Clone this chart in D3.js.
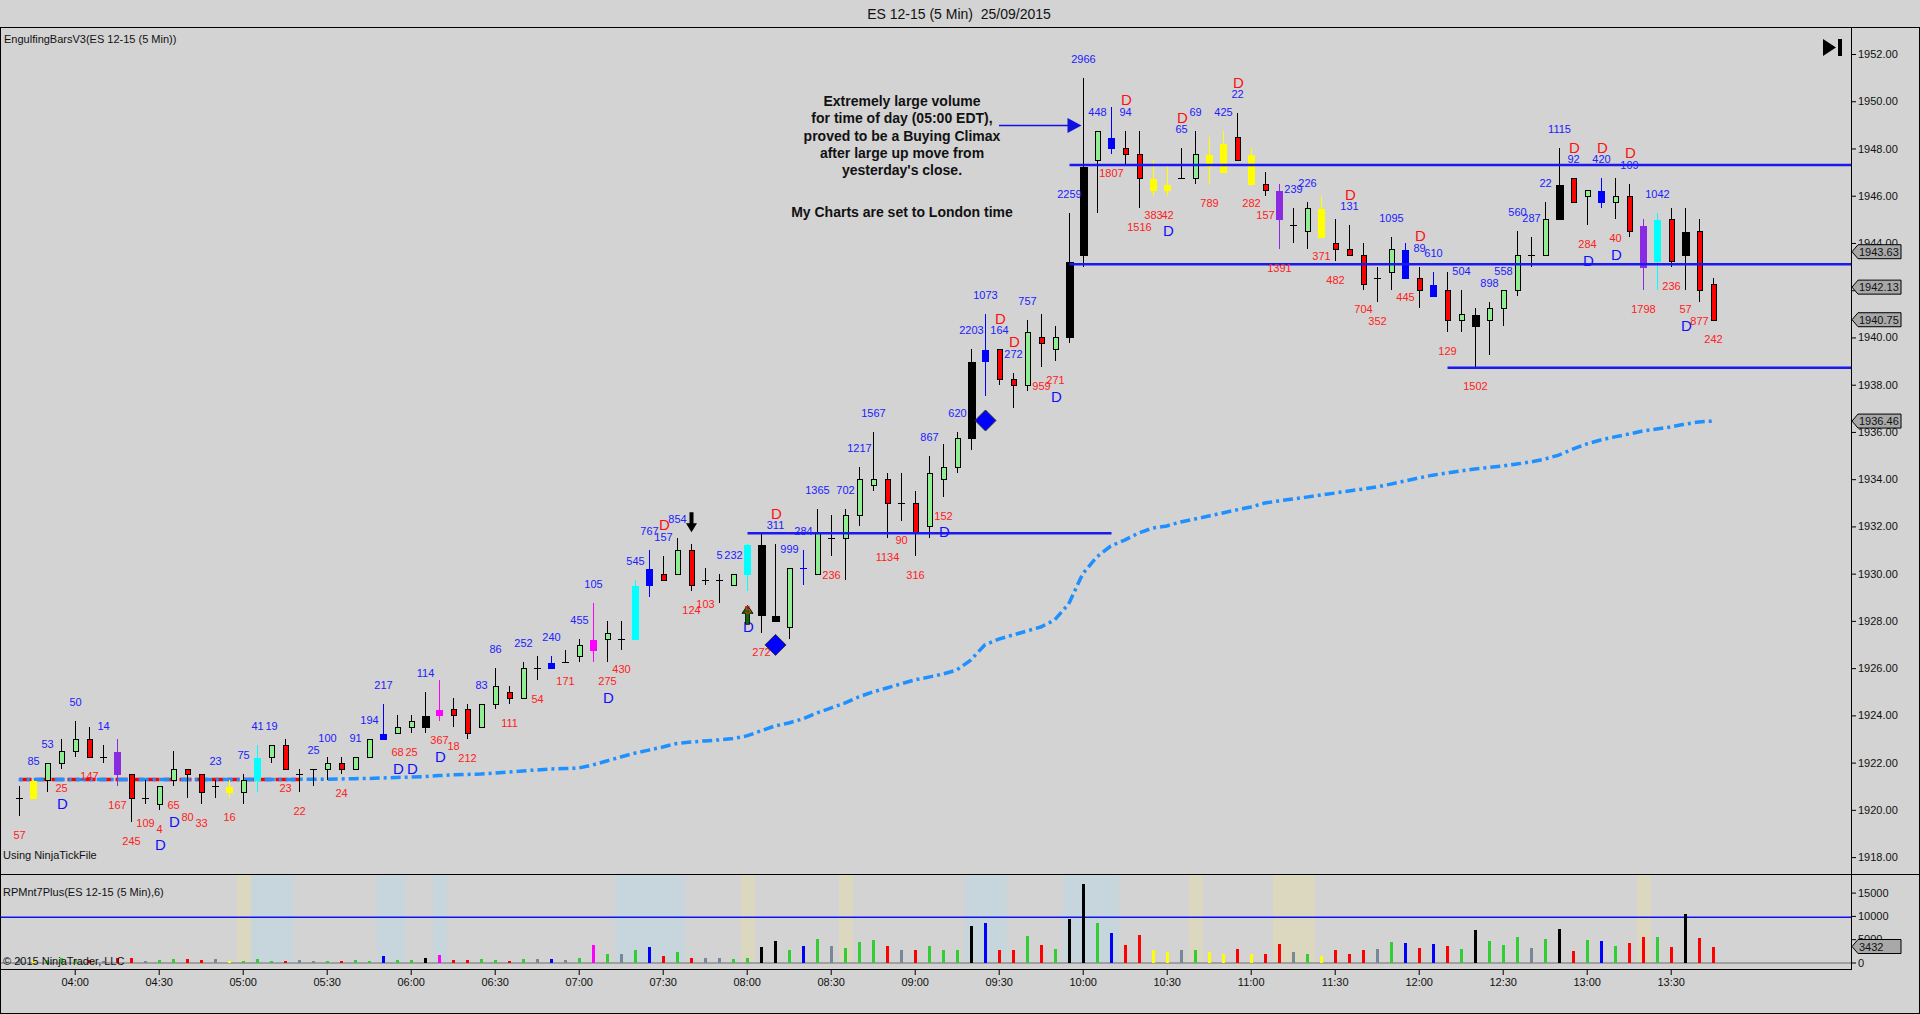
<!DOCTYPE html>
<meta charset="utf-8">
<head>
	<script src="https://d3js.org/d3.v7.min.js"></script>
	<style>
		body { margin: 0; background: #d3d3d3; overflow: hidden; }
		svg text { font-family: "Liberation Sans", Arial, sans-serif; }
		.crisp { shape-rendering: crispEdges; }
	</style>
</head>
<body>
<div id="D3_Chart"></div>
<script>
	'use strict';

	// ---- chart data ----
	var chartTitle = "ES 12-15 (5 Min)\u00a0\u00a025/09/2015";
	var firstBar = Date.UTC(2015, 8, 25, 3, 40); // bars every 5 min, 03:40 .. 13:45 London

	// g=up  r=down  x=doji  k=black  b=blue  bx=blue doji  c=cyan  m=magenta  p=purple  y=yellow
	var barType = ['x','y','g','g','g','r','x','p','r','x',
		'g','g','r','r','x','y','g','c','g','r',
		'x','x','g','r','g','g','b','g','g','k',
		'm','r','r','g','g','r','g','x','b','x',
		'g','m','g','x','c','b','r','g','r','x',
		'x','g','c','k','k','g','bx','g','x','g',
		'g','g','r','x','r','g','g','g','k','b',
		'r','r','g','r','g','k','k','g','b','r',
		'r','y','y','x','g','y','y','r','y','r',
		'p','x','g','y','r','r','r','x','g','b',
		'r','b','r','g','k','g','g','g','x','g',
		'k','r','g','b','g','r','p','c','r','k',
		'r','r'];

	var opens = [1920.5,1920.5,1921.25,1922.0,1922.5,1923.0,1922.25,1922.5,1921.5,1920.5,
		1920.25,1921.25,1921.75,1921.5,1921.0,1921.0,1920.75,1921.25,1922.25,1922.75,
		1921.5,1921.75,1921.75,1922.0,1921.75,1922.25,1923.0,1923.25,1923.5,1923.5,
		1924.0,1924.25,1924.25,1923.5,1924.5,1925.0,1924.75,1926.0,1926.0,1926.25,
		1926.5,1926.75,1927.25,1927.25,1927.25,1929.5,1930.0,1930.0,1931.0,1929.75,
		1929.75,1929.5,1930.0,1931.25,1928.25,1927.75,1930.25,1930.0,1931.5,1931.5,
		1932.5,1933.75,1934.0,1933.0,1933.0,1932.0,1934.0,1934.5,1935.75,1939.0,
		1939.5,1938.25,1938.0,1940.0,1939.5,1940.0,1943.5,1947.5,1948.0,1948.0,
		1947.75,1946.75,1946.5,1946.75,1946.75,1947.25,1947.0,1948.5,1947.75,1946.5,
		1946.25,1944.75,1944.5,1945.5,1944.0,1943.75,1943.5,1942.5,1942.75,1943.75,
		1942.5,1942.25,1942.0,1940.75,1941.0,1940.75,1941.25,1942.0,1943.5,1943.5,
		1945.0,1946.75,1946.0,1945.75,1945.75,1946.0,1944.75,1943.25,1945.0,1944.5,
		1944.5,1942.25];

	var highs = [1921.0,1921.25,1922.0,1923.0,1923.75,1923.5,1922.75,1923.0,1921.5,1921.25,
		1921.0,1922.5,1921.75,1921.5,1921.25,1921.25,1921.5,1922.75,1922.75,1923.0,
		1921.75,1921.75,1922.25,1922.25,1922.25,1923.0,1924.5,1924.0,1924.0,1925.0,
		1925.5,1924.75,1924.5,1924.5,1926.0,1925.25,1926.25,1926.5,1926.5,1926.75,
		1927.25,1928.75,1928.0,1928.0,1929.75,1931.0,1930.75,1931.5,1931.25,1930.25,
		1930.0,1930.0,1931.25,1931.75,1931.25,1930.25,1931.0,1932.75,1932.5,1932.75,
		1934.5,1936.0,1934.25,1934.25,1933.5,1935.0,1935.5,1936.0,1939.5,1941.0,
		1939.5,1938.5,1940.75,1941.0,1940.5,1945.25,1951.0,1948.75,1949.75,1948.75,
		1948.75,1947.5,1947.25,1948.0,1948.75,1948.5,1948.75,1949.5,1948.0,1947.0,
		1946.5,1945.5,1945.75,1946.0,1945.0,1944.75,1944.0,1943.0,1944.25,1944.0,
		1943.0,1942.75,1942.75,1942.0,1941.25,1941.5,1942.0,1944.5,1944.25,1945.75,
		1948.0,1946.75,1946.25,1946.75,1946.75,1946.5,1945.0,1945.25,1945.5,1945.5,
		1945.0,1942.5];

	var lows = [1919.75,1920.5,1920.75,1921.75,1922.25,1922.25,1922.0,1921.0,1919.5,1920.25,
		1920.0,1921.0,1920.5,1920.25,1920.5,1920.5,1920.25,1920.75,1922.0,1921.75,
		1920.75,1921.0,1921.25,1921.5,1921.75,1922.25,1923.0,1923.25,1923.25,1923.25,
		1923.75,1923.5,1923.0,1923.5,1924.25,1924.5,1924.75,1925.5,1926.0,1926.25,
		1926.25,1926.25,1926.25,1926.75,1927.25,1929.0,1929.75,1930.0,1929.25,1929.5,
		1928.75,1929.5,1929.25,1927.5,1928.0,1927.25,1929.5,1930.0,1930.75,1929.75,
		1932.0,1933.5,1931.5,1932.25,1930.75,1931.5,1933.25,1934.25,1935.25,1937.5,
		1938.0,1937.0,1937.75,1938.75,1939.0,1939.75,1943.0,1945.25,1947.75,1947.25,
		1945.5,1946.0,1946.0,1946.75,1946.5,1946.5,1947.0,1947.5,1946.5,1946.0,
		1943.75,1944.0,1943.75,1944.25,1943.25,1943.5,1942.0,1941.5,1942.0,1942.5,
		1941.25,1941.75,1940.25,1940.25,1938.75,1939.25,1940.5,1941.75,1943.0,1943.5,
		1945.0,1945.75,1944.75,1945.5,1945.0,1944.25,1942.0,1942.0,1943.0,1942.0,
		1941.5,1940.75];

	var closes = [1920.5,1921.25,1922.0,1922.5,1923.0,1922.25,1922.25,1921.5,1920.5,1920.5,
		1921.0,1921.75,1921.5,1920.75,1921.0,1920.75,1921.25,1922.25,1922.75,1921.75,
		1921.5,1921.75,1922.0,1921.75,1922.25,1923.0,1923.25,1923.5,1923.75,1924.0,
		1924.25,1924.0,1923.25,1924.5,1925.25,1924.75,1926.0,1926.0,1926.25,1926.25,
		1927.0,1927.25,1927.5,1927.25,1929.5,1930.25,1929.75,1931.0,1929.5,1929.75,
		1929.75,1930.0,1931.25,1928.25,1928.0,1930.25,1930.25,1931.75,1931.5,1932.5,
		1934.0,1934.0,1933.0,1933.0,1931.75,1934.25,1934.5,1935.75,1939.0,1939.5,
		1938.25,1938.0,1940.25,1939.75,1940.0,1943.25,1947.25,1948.75,1948.5,1947.75,
		1946.75,1946.25,1946.25,1946.75,1947.75,1947.75,1948.25,1947.5,1946.5,1946.25,
		1945.0,1944.75,1945.5,1944.25,1943.75,1943.5,1942.25,1942.5,1943.75,1942.5,
		1942.0,1941.75,1940.75,1941.0,1940.5,1941.25,1942.0,1943.5,1943.5,1945.0,
		1946.5,1945.75,1946.25,1946.25,1946.0,1944.5,1943.0,1945.0,1943.25,1943.5,
		1942.0,1940.75];

	// number printed by each bar, and whether it sits above (a) or below (b) the bar
	var barLabel = ["57","85","53","25","50","147","14","167","245","109",
		"4","65","80","33","23","16","75","41","19","23",
		"22","25","100","24","91","194","217","68","25","114",
		"367","18","212","83","86","111","252","54","240","171",
		"455","105","275","430","545","767","157","854","124","103",
		"5","232","5","272","311","999","284","1365","236","702",
		"1217","1567","1134","90","316","867","152","620","2203","1073",
		"164","272","757","959","271","2259","2966","448","1807","94",
		"1516","383","42","65","69","789","425","22","282","157",
		"1391","239","226","371","482","131","704","352","1095","445",
		"89","610","129","504","1502","898","558","560","287","22",
		"1115","92","284","420","40","109","1798","1042","236","57",
		"877","242"];
	var labelSide = ("baabababbb" + "bbbbabaaab" + "baabaaabba" + "bbbaababab" +
		"aabbaaaabb" + "aabbaaaaba" + "aabbbabaaa" + "aaabbaaaba" +
		"bbbaabaabb" + "baabbabbab" + "aababaaaaa" + "aababababb" + "bb").split("");

	var redDBars = [46,54,70,71,79,83,87,95,100,111,113,115];
	var blueDBars = [3,10,11,27,28,30,42,52,66,74,82,112,114,119];
	var diamondBars = [54,69];
	var downArrowBars = [48];
	var upArrowBars = [52];

	var vwap = [1921.29,1921.29,1921.29,1921.29,1921.29,1921.29,1921.29,1921.29,1921.29,1921.29,
		1921.29,1921.29,1921.29,1921.29,1921.29,1921.29,1921.29,1921.29,1921.29,1921.29,
		1921.29,1921.30,1921.30,1921.31,1921.32,1921.33,1921.35,1921.37,1921.39,1921.41,
		1921.45,1921.48,1921.50,1921.52,1921.56,1921.60,1921.65,1921.69,1921.73,1921.75,
		1921.77,1921.90,1922.07,1922.24,1922.40,1922.53,1922.66,1922.81,1922.87,1922.92,
		1922.96,1923.02,1923.13,1923.34,1923.55,1923.68,1923.85,1924.10,1924.31,1924.52,
		1924.78,1924.99,1925.16,1925.33,1925.50,1925.62,1925.75,1925.92,1926.34,1926.98,
		1927.23,1927.40,1927.57,1927.74,1928.04,1928.72,1929.99,1930.71,1931.17,1931.42,
		1931.72,1931.93,1932.02,1932.19,1932.31,1932.44,1932.57,1932.70,1932.82,1932.99,
		1933.08,1933.16,1933.24,1933.33,1933.41,1933.50,1933.58,1933.67,1933.79,1933.92,
		1934.05,1934.17,1934.26,1934.35,1934.43,1934.50,1934.56,1934.64,1934.73,1934.85,
		1935.02,1935.27,1935.49,1935.66,1935.79,1935.91,1936.04,1936.12,1936.21,1936.33,
		1936.42,1936.46];

	var volumes = [800,500,600,860,700,600,400,860,1070,360,
		500,715,715,500,715,290,290,715,290,290,
		500,290,290,290,500,290,1360,500,500,1070,
		1570,500,500,715,500,290,715,715,715,500,
		930,3720,1790,1790,2650,3220,1360,2220,1070,930,
		1070,715,1070,3220,4580,2650,3500,5000,3500,3070,
		4360,4790,3500,2650,2650,3500,2650,2650,7790,8500,
		2650,2650,5650,3720,3000,9440,16800,8500,6290,3720,
		5860,2650,2290,2650,2650,2290,1930,2860,1790,1790,
		3930,2290,1790,1360,2650,1790,2650,2860,4360,4150,
		3070,3930,3500,3000,6940,4580,3720,5430,3070,5000,
		7150,2430,4790,4580,3500,4150,5430,5430,3290,10370,
		5220,3432];
	var volumeAlertLevel = 9700;

	// shaded bar ranges in the volume panel [first bar, last bar]
	var blueBands = [[17,19],[26,27],[30,30],[43,47],[68,70],[75,78]];
	var beigeBands = [[16,16],[52,52],[59,59],[84,84],[90,92],[116,116]];

	// drawn horizontal levels: price, first bar, last bar (null = to the axis)
	var levelPrices = [1947.3, 1943.1, 1938.72, 1931.71];
	var levelFrom = [75, 75, 102, 52];
	var levelTo = [null, null, null, 78];
	var refLinePrice = 1921.29, refLineTo = 20;

	var priceTicks = [1918,1920,1922,1924,1926,1928,1930,1932,1934,1936,1938,1940,1942,1944,1946,1948,1950,1952];
	var priceTags = [1943.63, 1942.13, 1940.75, 1936.46];
	var volumeTicks = [0, 5000, 10000, 15000];
	var volumeTag = 3432;

	var noteLines = ["Extremely large volume", "for time of day (05:00 EDT),", "proved to be a Buying Climax",
		"after large up move from", "yesterday's close."];
	var noteFoot = "My Charts are set to London time";
	var noteBar = 76;

	(function () {
		var width = 1920, height = 1014;
		var axisX = 1851;
		var priceTop = 27, priceBottom = 874, volBottom = 969;

		var svg = d3.select("#D3_Chart").append("svg")
			.attr("width", width).attr("height", height);

		svg.append("rect").attr("width", width).attr("height", height).attr("fill", "#d3d3d3");

		var t0 = new Date(Date.UTC(2015, 8, 25, 4, 0));
		var t1 = new Date(Date.UTC(2015, 8, 25, 13, 30));
		var xscale = d3.scaleUtc().domain([t0, t1]).range([74.7, 1670.7]);
		var yscale = d3.scaleLinear().domain([1918, 1952]).range([857.1, 54.0]);
		var vscale = d3.scaleLinear().domain([0, 15000]).range([962.5, 892.6]);

		var bars = barType.map(function (tp, i) {
			return {
				i: i, t: new Date(firstBar + i * 300000), type: tp,
				o: opens[i], h: highs[i], l: lows[i], c: closes[i],
				lab: barLabel[i], side: labelSide[i], vol: volumes[i], vw: vwap[i]
			};
		});
		function bx(i) { return Math.round(xscale(bars[i].t)) + 0.5; }

		var fillOf = { g: "#90ee90", r: "#ff0000", k: "#000000", b: "#0000ff", bx: "#0000ff",
			c: "#00ffff", m: "#ff00ff", p: "#8a2be2", y: "#ffff00", x: "#000000" };
		var volColor = { g: "#32cd32", c: "#32cd32", r: "#ff0000", p: "#ff0000", x: "#778899",
			k: "#000000", b: "#0000ff", bx: "#0000ff", m: "#ff00ff", y: "#ffff00" };

		// ---- title ----
		svg.append("text").attr("x", 959).attr("y", 13.5).attr("text-anchor", "middle")
			.attr("dominant-baseline", "central").attr("font-size", 14).attr("fill", "#111")
			.text(chartTitle);

		// ---- volume panel shading ----
		var vol = svg.append("g");
		function band(list, color) {
			vol.selectAll(null).data(list).enter().append("rect").attr("class", "crisp")
				.attr("x", function (d) { return bx(d[0]) - 7; })
				.attr("width", function (d) { return bx(d[1]) - bx(d[0]) + 14; })
				.attr("y", priceBottom + 1).attr("height", 962 - priceBottom - 1)
				.attr("fill", color);
		}
		band(blueBands, "#c7d5dd");
		band(beigeBands, "#dcd8c0");

		vol.append("line").attr("class", "crisp").attr("x1", 0).attr("x2", axisX)
			.attr("y1", 962.5).attr("y2", 962.5).attr("stroke", "#a0a0a0").attr("stroke-width", 2);
		vol.append("line").attr("x1", 0).attr("x2", axisX)
			.attr("y1", vscale(volumeAlertLevel)).attr("y2", vscale(volumeAlertLevel))
			.attr("stroke", "#1010f0").attr("stroke-width", 1.5);

		vol.selectAll(".vbar").data(bars).enter().append("rect").attr("class", "vbar crisp")
			.attr("x", function (d) { return bx(d.i) - 1.5; })
			.attr("width", 3)
			.attr("y", function (d) { return vscale(d.vol); })
			.attr("height", function (d) { return vscale(0) - vscale(d.vol); })
			.attr("fill", function (d) { return volColor[d.type]; });

		vol.append("text").attr("x", 3).attr("y", 892).attr("dominant-baseline", "central")
			.attr("font-size", 11).attr("fill", "#111").text("RPMnt7Plus(ES 12-15 (5 Min),6)");
		vol.append("text").attr("x", 3).attr("y", 961).attr("dominant-baseline", "central")
			.attr("font-size", 11).attr("fill", "#111").text("\u00a9 2015 NinjaTrader, LLC");

		// ---- price panel ----
		var main = svg.append("g");
		main.append("text").attr("x", 4).attr("y", 39).attr("dominant-baseline", "central")
			.attr("font-size", 11).attr("fill", "#111").text("EngulfingBarsV3(ES 12-15 (5 Min))");
		main.append("text").attr("x", 3).attr("y", 855).attr("dominant-baseline", "central")
			.attr("font-size", 11).attr("fill", "#111").text("Using NinjaTickFile");

		// reference line and vwap
		main.append("line").attr("x1", bx(0)).attr("x2", bx(refLineTo))
			.attr("y1", yscale(refLinePrice)).attr("y2", yscale(refLinePrice))
			.attr("stroke", "#ff0000").attr("stroke-width", 3.5).attr("stroke-dasharray", "12,4");
		var vwLine = d3.line()
			.x(function (d) { return xscale(d.t); })
			.y(function (d) { return yscale(d.vw); });
		main.append("path").datum(bars).attr("d", vwLine).attr("fill", "none")
			.attr("stroke", "#1e90ff").attr("stroke-width", 3.5)
			.attr("stroke-dasharray", "10,4,3,4").attr("stroke-dashoffset", 6);

		// candles
		var candle = main.selectAll(".candle").data(bars).enter().append("g").attr("class", "candle crisp");
		candle.append("line")
			.attr("x1", function (d) { return bx(d.i); }).attr("x2", function (d) { return bx(d.i); })
			.attr("y1", function (d) { return yscale(d.h); }).attr("y2", function (d) { return yscale(d.l); })
			.attr("stroke", function (d) {
				return (d.type === "g" || d.type === "r" || d.type === "k" || d.type === "x") ? "#000" : fillOf[d.type];
			});
		candle.filter(function (d) { return d.type === "x" || d.type === "bx"; }).append("line")
			.attr("x1", function (d) { return bx(d.i) - 3.5; }).attr("x2", function (d) { return bx(d.i) + 3.5; })
			.attr("y1", function (d) { return Math.round(yscale(d.o)) + 0.5; })
			.attr("y2", function (d) { return Math.round(yscale(d.o)) + 0.5; })
			.attr("stroke", function (d) { return fillOf[d.type]; });
		candle.filter(function (d) { return d.type !== "x" && d.type !== "bx"; }).append("rect")
			.attr("x", function (d) {
				if (d.type === "g" || d.type === "r") return bx(d.i) - 2.5;
				return bx(d.i) - (d.type === "k" ? 4 : 3.5);
			})
			.attr("width", function (d) {
				if (d.type === "g" || d.type === "r") return 5;
				return d.type === "k" ? 8 : 7;
			})
			.attr("y", function (d) { return Math.round(yscale(Math.max(d.o, d.c))) + 0.5; })
			.attr("height", function (d) {
				return Math.max(1, Math.round(yscale(Math.min(d.o, d.c))) - Math.round(yscale(Math.max(d.o, d.c))));
			})
			.attr("fill", function (d) { return fillOf[d.type]; })
			.attr("stroke", function (d) { return (d.type === "g" || d.type === "r") ? "#000" : "none"; });

		// level lines
		levelPrices.forEach(function (p, k) {
			var x1 = bx(levelFrom[k]);
			var x2 = levelTo[k] === null ? axisX : bx(levelTo[k]);
			main.append("line").attr("x1", x1).attr("x2", x2)
				.attr("y1", yscale(p)).attr("y2", yscale(p))
				.attr("stroke", "#1a1af0").attr("stroke-width", 2.5);
		});

		// volume numbers and D markers
		main.selectAll(".num").data(bars).enter().append("text").attr("class", "num")
			.attr("x", function (d) { return bx(d.i); })
			.attr("y", function (d) { return d.side === "a" ? yscale(d.h) - 19 : yscale(d.l) + 19; })
			.attr("text-anchor", "middle").attr("dominant-baseline", "central").attr("font-size", 11)
			.attr("fill", function (d) { return d.side === "a" ? "#2020ff" : "#ff2020"; })
			.text(function (d) { return d.lab; });

		main.selectAll(".dred").data(redDBars).enter().append("text")
			.attr("x", function (i) { return bx(i) + 1; })
			.attr("y", function (i) { return yscale(bars[i].h) - 31; })
			.attr("text-anchor", "middle").attr("dominant-baseline", "central").attr("font-size", 15)
			.attr("fill", "#ff1010").text("D");
		main.selectAll(".dblue").data(blueDBars).enter().append("text")
			.attr("x", function (i) { return bx(i) + 1; })
			.attr("y", function (i) { return yscale(bars[i].l) + 35; })
			.attr("text-anchor", "middle").attr("dominant-baseline", "central").attr("font-size", 15)
			.attr("fill", "#1010ff").text("D");

		// diamonds and arrows
		main.selectAll(".diamond").data(diamondBars).enter().append("path")
			.attr("d", function (i) {
				var cx = bx(i), cy = yscale(bars[i].l) + 24, r = 10.5;
				return "M" + cx + "," + (cy - r) + "L" + (cx + r) + "," + cy + "L" + cx + "," + (cy + r) + "L" + (cx - r) + "," + cy + "Z";
			})
			.attr("fill", "#0000ff").attr("stroke", "#333").attr("stroke-width", 1);
		main.selectAll(".darrow").data(downArrowBars).enter().append("path")
			.attr("d", function (i) {
				var cx = bx(i), tip = yscale(bars[i].h) - 12;
				return "M" + (cx - 2) + "," + (tip - 20) + "H" + (cx + 2) + "V" + (tip - 9) + "H" + (cx + 5.5) +
					"L" + cx + "," + tip + "L" + (cx - 5.5) + "," + (tip - 9) + "H" + (cx - 2) + "Z";
			})
			.attr("fill", "#000");
		main.selectAll(".uarrow").data(upArrowBars).enter().append("path")
			.attr("d", function (i) {
				var cx = bx(i), tip = yscale(bars[i].l) + 14;
				return "M" + (cx - 2) + "," + (tip + 19) + "H" + (cx + 2) + "V" + (tip + 8) + "H" + (cx + 5.5) +
					"L" + cx + "," + tip + "L" + (cx - 5.5) + "," + (tip + 8) + "H" + (cx - 2) + "Z";
			})
			.attr("fill", "#0a6a0a").attr("stroke", "#000").attr("stroke-width", 0.8);
		// redraw the red number over the arrow
		main.selectAll(".num2").data(upArrowBars).enter().append("text")
			.attr("x", function (i) { return bx(i); }).attr("y", function (i) { return yscale(bars[i].l) + 19; })
			.attr("text-anchor", "middle").attr("dominant-baseline", "central").attr("font-size", 11)
			.attr("fill", "#ff2020").text(function (i) { return bars[i].lab; });

		// annotation
		var note = main.append("g").attr("font-size", 14).attr("font-weight", "bold").attr("fill", "#111")
			.attr("text-anchor", "middle");
		noteLines.forEach(function (s, k) {
			note.append("text").attr("x", 902).attr("y", 100.7 + k * 17.4)
				.attr("dominant-baseline", "central").text(s);
		});
		note.append("text").attr("x", 902).attr("y", 211.7).attr("dominant-baseline", "central").text(noteFoot);
		var ay = 125.5, ax = bx(noteBar) - 2;
		main.append("line").attr("x1", 999).attr("x2", ax - 12).attr("y1", ay).attr("y2", ay)
			.attr("stroke", "#1010e0").attr("stroke-width", 1.5);
		main.append("path")
			.attr("d", "M" + (ax - 14) + "," + (ay - 7.5) + "L" + ax + "," + ay + "L" + (ax - 14) + "," + (ay + 7.5) + "Z")
			.attr("fill", "#1010e0");

		// go-to-end icon
		main.append("path").attr("d", "M1823,39L1836,47.5L1823,56Z").attr("fill", "#000");
		main.append("rect").attr("x", 1838).attr("y", 39).attr("width", 4).attr("height", 17).attr("fill", "#000");

		// ---- frame ----
		var frame = svg.append("g").attr("class", "crisp").attr("stroke", "#000").attr("fill", "none");
		frame.append("line").attr("x1", 0).attr("x2", width).attr("y1", priceTop + 0.5).attr("y2", priceTop + 0.5);
		frame.append("line").attr("x1", 0).attr("x2", width).attr("y1", priceBottom + 0.5).attr("y2", priceBottom + 0.5);
		frame.append("line").attr("x1", 0).attr("x2", axisX).attr("y1", volBottom + 0.5).attr("y2", volBottom + 0.5);
		frame.append("line").attr("x1", axisX + 0.5).attr("x2", axisX + 0.5).attr("y1", priceTop).attr("y2", volBottom + 1);
		frame.append("rect").attr("x", 0.5).attr("y", priceTop + 0.5).attr("width", width - 1.5).attr("height", height - priceTop - 1.5);

		// ---- axes ----
		var yaxis = svg.append("g").attr("transform", "translate(" + axisX + ",0)")
			.call(d3.axisRight(yscale).tickValues(priceTicks).tickFormat(d3.format(".2f")).tickSize(5).tickPadding(2));
		var vaxis = svg.append("g").attr("transform", "translate(" + axisX + ",0)")
			.call(d3.axisRight(vscale).tickValues(volumeTicks).tickFormat(d3.format("d")).tickSize(5).tickPadding(2));
		var xaxis = svg.append("g").attr("transform", "translate(0," + (volBottom + 1) + ")")
			.call(d3.axisBottom(xscale).ticks(d3.utcMinute.every(30)).tickFormat(d3.utcFormat("%H:%M")).tickSize(5).tickPadding(3));
		[yaxis, vaxis, xaxis].forEach(function (a) {
			a.select(".domain").remove();
			a.attr("font-size", 11).attr("font-family", '"Liberation Sans", Arial, sans-serif');
			a.selectAll("text").attr("fill", "#111");
		});

		// value tags on the right axis
		function tag(yv, txt) {
			var g = svg.append("g");
			g.append("path")
				.attr("d", "M" + (axisX + 1) + "," + yv + "L" + (axisX + 7) + "," + (yv - 7) + "H1901V" + (yv + 7) + "H" + (axisX + 7) + "Z")
				.attr("fill", "#a8a8a8").attr("stroke", "#000").attr("stroke-width", 1);
			g.append("text").attr("x", axisX + 8).attr("y", yv).attr("dominant-baseline", "central")
				.attr("font-size", 11).attr("fill", "#111").text(txt);
		}
		priceTags.forEach(function (p) { tag(yscale(p), d3.format(".2f")(p)); });
		tag(vscale(volumeTag), String(volumeTag));
	})();
</script>
</body>
